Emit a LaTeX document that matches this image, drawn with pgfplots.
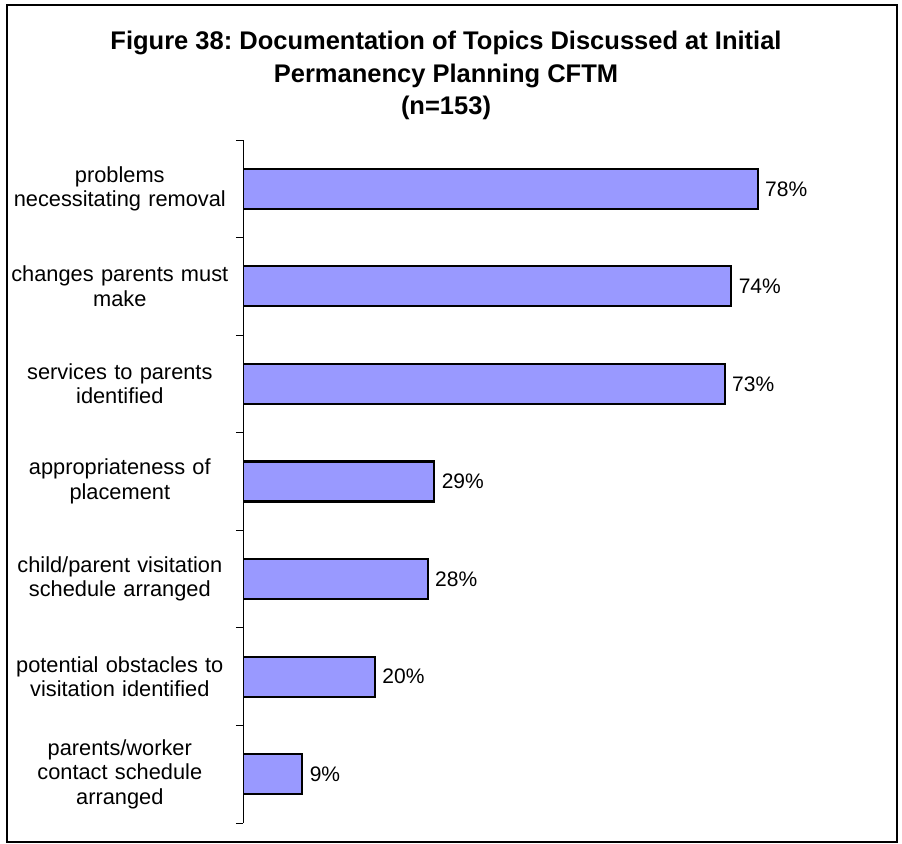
\documentclass[border=0pt]{standalone}
\usepackage{pgfplots}
\pgfplotsset{compat=1.18}
\usepackage{fontspec}
\setmainfont{Liberation Sans}
\frenchspacing
\definecolor{barblue}{HTML}{9999FF}
\pgfplotstableread{
idx val
0 78
1 74
2 73
3 29
4 28
5 20
6 9
}\topics
\begin{document}
\begin{tikzpicture}
\path (0,0) rectangle (902bp,844bp);
\draw[line width=1.2bp] (7bp,2bp) rectangle (897bp,839bp);
\node[font=\bfseries\fontsize{25.5bp}{30bp}\selectfont, anchor=base, inner sep=0pt] at (446bp,794bp) {Figure 38: Documentation of Topics Discussed at Initial};
\node[font=\bfseries\fontsize{25.5bp}{30bp}\selectfont, anchor=base, inner sep=0pt] at (446bp,761bp) {Permanency Planning CFTM};
\node[font=\bfseries\fontsize{25.5bp}{30bp}\selectfont, anchor=base, inner sep=0pt] at (446bp,729bp) {(n=153)};
\begin{axis}[
  at={(243bp,21bp)}, anchor=south west,
  scale only axis, width=594bp, height=683bp,
  xmin=0, xmax=90, ymin=-0.5, ymax=6.5, y dir=reverse,
  xbar, bar width=40bp,
  axis x line=none, axis y line=left, y axis line style={-, line width=0.9bp},
  ytick={0,...,6},
  yticklabels={{problems\\necessitating removal},{changes parents must\\make},{services to parents\\identified},{appropriateness of\\placement},{child/parent visitation\\schedule arranged},{potential obstacles to\\visitation identified},{parents/worker\\contact schedule\\arranged}},
  major tick length=0pt,
  minor ytick={-0.5,0.5,...,6.5}, minor tick length=7bp, tick align=outside,
  tick style={black, line width=0.9bp},
  yticklabel style={text width=236bp, align=center, inner sep=0pt, xshift=-5bp, font=\fontsize{21.8bp}{24.5bp}\selectfont},
  /pgf/number format/assume math mode=true,
  point meta=x,
  nodes near coords={\pgfmathprintnumber{\pgfplotspointmeta}\%},
  every node near coord/.append style={font=\fontsize{21bp}{24bp}\selectfont, black, xshift=3bp},
]
\addplot[fill=barblue, draw=black, line width=2.2bp] table[x=val, y=idx] {\topics};
\end{axis}
\end{tikzpicture}
\end{document}
